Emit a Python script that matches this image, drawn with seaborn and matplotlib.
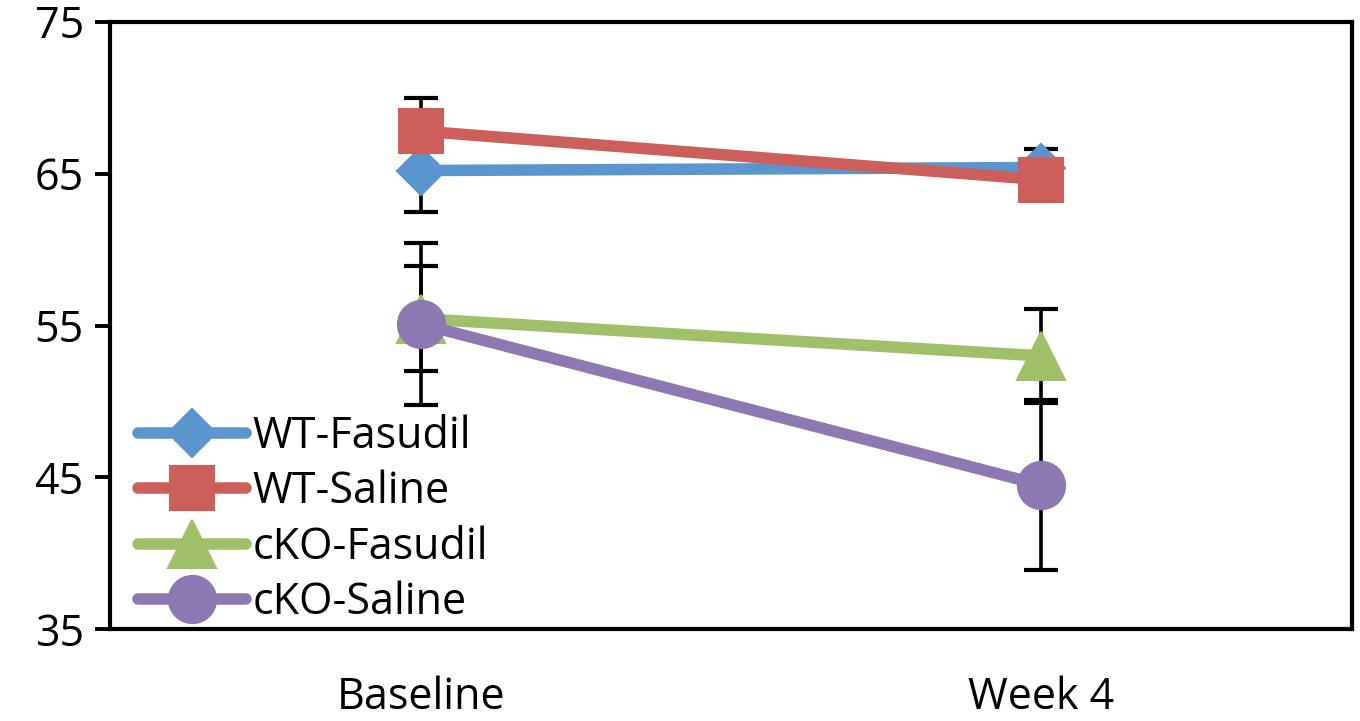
import numpy as np
import pandas as pd
import matplotlib
matplotlib.use("Agg")
import matplotlib.pyplot as plt
import seaborn as sns
from matplotlib.lines import Line2D

# Time points and group measurements (mean ± error)
categories = ["Baseline", "Week 4"]
groups = ["WT-Fasudil", "WT-Saline", "cKO-Fasudil", "cKO-Saline"]

wt_fasudil = [65.2, 65.4]
wt_saline = [67.8, 64.6]
cko_fasudil = [55.45, 53.0]
cko_saline = [55.1, 44.5]

wt_fasudil_err = [2.7, 1.25]
wt_saline_err = [2.15, 1.0]
cko_fasudil_err = [3.45, 3.1]
cko_saline_err = [5.3, 5.6]

y_ticks = [35, 45, 55, 65, 75]

means = [wt_fasudil, wt_saline, cko_fasudil, cko_saline]
errors = [wt_fasudil_err, wt_saline_err, cko_fasudil_err, cko_saline_err]

colors = ["#5B95CD", "#CD5F5A", "#9FC069", "#8E78B2"]
markers = ["D", "s", "^", "o"]
msizes = [24.5, 32, 34, 34]
lw = 8.3

rows = []
for g, m in zip(groups, means):
    for i, c in enumerate(categories):
        rows.append({"group": g, "time": c, "pos": i, "value": m[i]})
df = pd.DataFrame(rows)

sns.set_theme(style="white")
plt.rcParams["font.family"] = ["Open Sans", "DejaVu Sans"]
plt.rcParams["text.color"] = "black"
plt.rcParams["xtick.color"] = "black"
plt.rcParams["ytick.color"] = "black"

fig = plt.figure(figsize=(13.6, 7.21), dpi=100)
ax = fig.add_axes([0.081, 0.127, 0.913, 0.843])

# Error bars underneath the markers
for g, err in zip(groups, errors):
    sub = df[df.group == g]
    ax.errorbar(sub["pos"], sub["value"], yerr=err, fmt="none",
                ecolor="black", elinewidth=2.6, capsize=12, capthick=3.0,
                zorder=2)

handles = []
for k, g in enumerate(groups):
    sub = df[df.group == g]
    sns.lineplot(data=sub, x="pos", y="value", ax=ax, color=colors[k],
                 linewidth=lw, marker=markers[k], markersize=msizes[k],
                 markeredgewidth=1.5, markeredgecolor=colors[k],
                 solid_capstyle="round", solid_joinstyle="round",
                 legend=False, zorder=3 + k)
    handles.append(Line2D([], [], color=colors[k], linewidth=lw,
                          marker=markers[k], markersize=msizes[k],
                          markeredgewidth=1.5, markeredgecolor=colors[k],
                          solid_capstyle="round", label=g))

ax.set_xlim(-0.5, 1.5)
ax.set_ylim(35, 75)
ax.set_yticks(y_ticks)
ax.set_yticklabels([str(t) for t in y_ticks], fontsize=31)
ax.set_xticks([0, 1])
ax.set_xticklabels(categories, fontsize=31)
ax.set_xticks([-0.5, 0.5, 1.5], minor=True)
ax.tick_params(axis="x", which="major", length=0, pad=33)
ax.tick_params(axis="x", which="minor", length=11, width=2.8, color="black",
               direction="out")
ax.tick_params(axis="y", which="major", length=11, width=2.8, color="black",
               direction="out", pad=8, left=True)
ax.set_xlabel("")
ax.set_ylabel("")

for side in ["left", "bottom", "top", "right"]:
    ax.spines[side].set_visible(True)
    ax.spines[side].set_color("black")
    ax.spines[side].set_linewidth(3)

leg = ax.legend(handles=handles, loc="lower left",
                bbox_to_anchor=(0.002, -0.035), frameon=False, fontsize=31,
                handlelength=2.5, handletextpad=0.15, labelspacing=0.25,
                borderaxespad=0.2)

fig.savefig("out.png", dpi=100)
